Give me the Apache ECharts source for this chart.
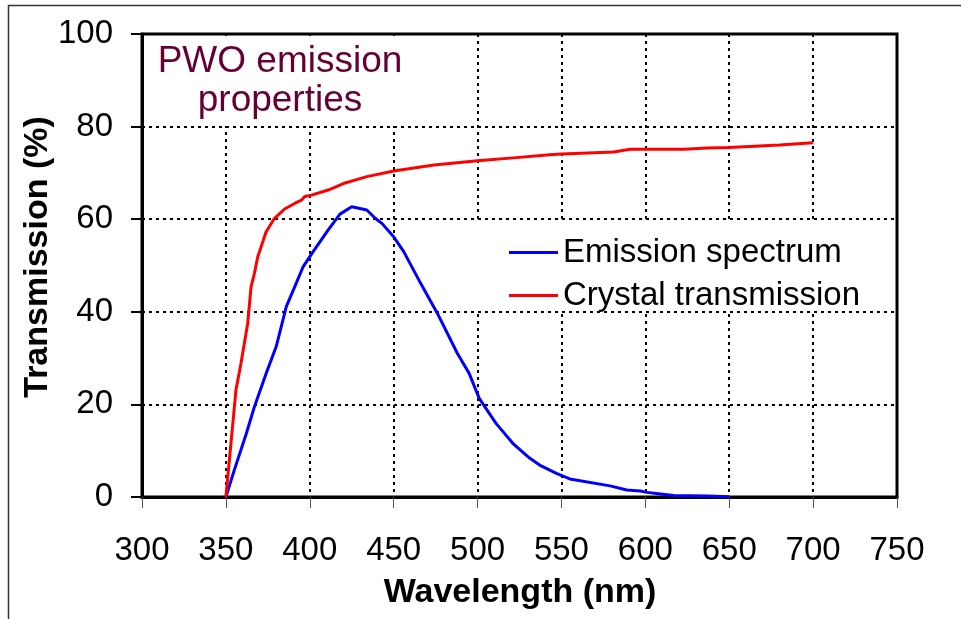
<!DOCTYPE html>
<html>
<head>
<meta charset="utf-8">
<script src="https://cdn.jsdelivr.net/npm/echarts@6/dist/echarts.min.js"></script>
<style>
  html, body { margin: 0; padding: 0; background: #fff; }
  #chart { width: 961px; height: 619px; }
</style>
</head>
<body>
<div id="chart"></div>
<script>
// Wavelength (nm) and values (%) for the PWO scintillation emission spectrum
const emissionWavelength = [350, 355, 362, 367, 374, 380, 386, 391, 396, 402, 411, 418, 425, 434, 439, 443, 450, 456, 466, 476, 488, 495, 501, 511, 521, 531, 537, 547, 555, 579, 589, 597, 601, 609, 617, 637, 650];
const emissionValue      = [0, 5.8, 13.5, 19.5, 26.7, 32.5, 41.1, 45.4, 49.7, 53.0, 57.7, 61.1, 62.7, 62.0, 60.2, 59.1, 56.2, 53.0, 46.2, 39.7, 31.0, 26.7, 21.3, 15.9, 11.6, 8.4, 6.9, 5.1, 3.9, 2.4, 1.5, 1.3, 1.0, 0.65, 0.3, 0.2, 0.05];

// Wavelength (nm) and optical transmission (%) of the PWO crystal
const transmissionWavelength = [350, 356, 359, 363, 365, 367, 369, 374, 379, 385, 391, 395, 397, 401, 411, 420, 434, 450, 474, 500, 523, 543, 550, 581, 591, 601, 623, 637, 650, 680, 700];
const transmissionValue      = [0, 23.1, 28.9, 37.5, 45.4, 48.3, 51.9, 57.3, 60.2, 62.2, 63.4, 64.1, 64.9, 65.2, 66.3, 67.7, 69.2, 70.4, 71.7, 72.6, 73.3, 73.9, 74.1, 74.5, 75.1, 75.1, 75.1, 75.4, 75.5, 76.0, 76.5];

const seriesNames = ['Emission spectrum', 'Crystal transmission'];
const titleLines = ['PWO emission', 'properties'];
const xAxisTitle = 'Wavelength (nm)';
const yAxisTitle = 'Transmission (%)';

const FONT = 'Liberation Sans';

function pairs(xs, ys) {
  return xs.map((x, i) => [x, ys[i]]);
}

const chart = echarts.init(document.getElementById('chart'), null, { renderer: 'canvas' });

const gridLine = { show: true, lineStyle: { color: '#000', width: 2, type: [3, 4] } };

chart.setOption({
  backgroundColor: '#fff',
  animation: false,
  grid: {
    left: 142, top: 34, right: 64, bottom: 122,
    show: true, borderColor: '#000', borderWidth: 3, backgroundColor: 'transparent'
  },
  legend: {
    orient: 'vertical',
    left: 504, top: 231,
    itemWidth: 49, itemHeight: 3, itemGap: 10,
    icon: 'rect',
    textStyle: { fontFamily: FONT, fontSize: 33, color: '#000' },
    data: seriesNames
  },
  xAxis: {
    type: 'value',
    min: 300, max: 750, interval: 50,
    axisLine: { show: true, lineStyle: { color: '#000', width: 3 } },
    axisTick: { show: true, length: 11, inside: false, lineStyle: { color: '#555', width: 1 } },
    axisLabel: { margin: 37, fontFamily: FONT, fontSize: 33, color: '#000' },
    splitLine: gridLine
  },
  yAxis: {
    type: 'value',
    min: 0, max: 100, interval: 20,
    axisLine: { show: true, lineStyle: { color: '#000', width: 3 } },
    axisTick: { show: true, length: 11, inside: false, lineStyle: { color: '#000', width: 2 } },
    axisLabel: { margin: 29, fontFamily: FONT, fontSize: 33, color: '#000' },
    splitLine: gridLine
  },
  graphic: [
    {
      type: 'rect', silent: true, z: -1,
      shape: { x: 8.5, y: 5.5, width: 1000, height: 700 },
      style: { fill: 'none', stroke: '#333', lineWidth: 1.5 }
    },
    // white boxes behind the title and the legend, hiding the grid there
    {
      type: 'rect', silent: true, z: 1,
      shape: { x: 144, y: 36, width: 296, height: 90 },
      style: { fill: '#fff' }
    },
    {
      type: 'rect', silent: true, z: 1,
      shape: { x: 466, y: 222, width: 429, height: 89 },
      style: { fill: '#fff' }
    },
    {
      type: 'text', x: 280, y: 42, z: 10,
      style: {
        text: titleLines.join('\n'), fill: '#660033',
        font: '37px "Liberation Sans"', align: 'center', verticalAlign: 'top', lineHeight: 39
      }
    },
    {
      type: 'text', x: 520, y: 593,
      style: {
        text: xAxisTitle, fill: '#000',
        font: 'bold 34px "Liberation Sans"', align: 'center', verticalAlign: 'middle'
      }
    },
    {
      type: 'text', x: 38, y: 257, rotation: Math.PI / 2,
      style: {
        text: yAxisTitle, fill: '#000',
        font: 'bold 34px "Liberation Sans"', align: 'center', verticalAlign: 'middle'
      }
    }
  ],
  series: [
    {
      name: seriesNames[0], type: 'line', showSymbol: false, symbol: 'none',
      color: '#0000ff', lineStyle: { color: '#0000ff', width: 3 },
      data: pairs(emissionWavelength, emissionValue), z: 3
    },
    {
      name: seriesNames[1], type: 'line', showSymbol: false, symbol: 'none',
      color: '#ff0000', lineStyle: { color: '#ff0000', width: 3 },
      data: pairs(transmissionWavelength, transmissionValue), z: 3
    }
  ]
});
</script>
</body>
</html>
